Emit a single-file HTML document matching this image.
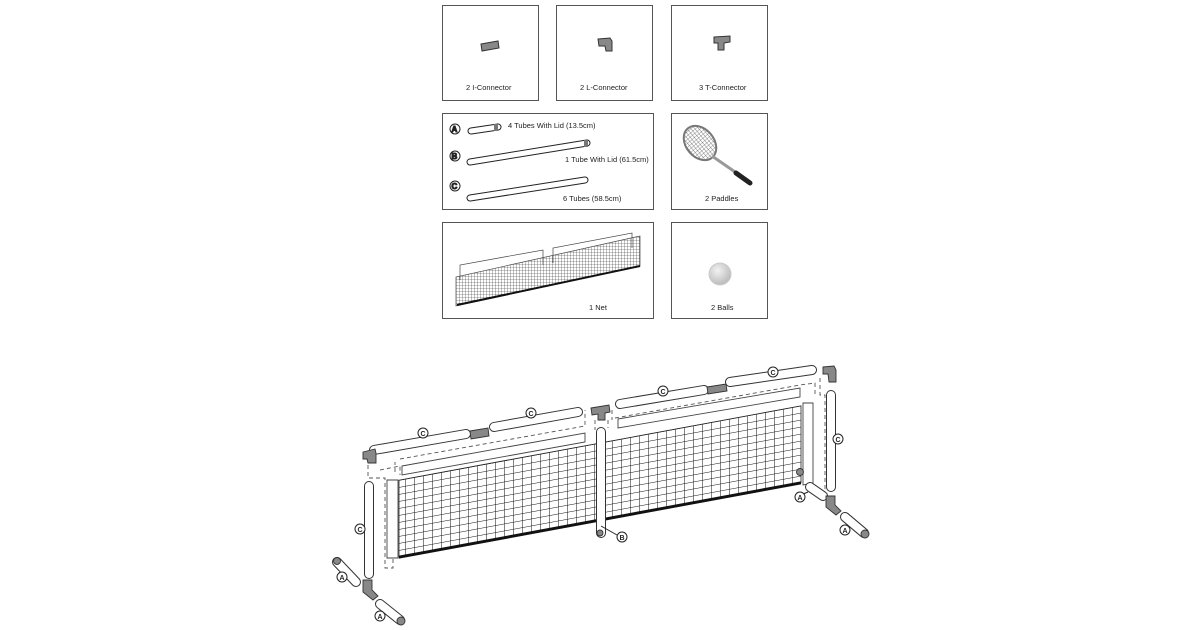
<!DOCTYPE html>
<html><head><meta charset="utf-8"><style>
body{margin:0;background:#fff;width:1200px;height:630px;overflow:hidden}
svg{display:block}
text{font-family:"Liberation Sans",sans-serif;fill:#222}
</style></head><body>
<svg width="1200" height="630" viewBox="0 0 1200 630" xmlns="http://www.w3.org/2000/svg">
<defs>
<pattern id="mesh" width="9" height="7" patternUnits="userSpaceOnUse">
<path d="M0 0H9M0 0V7" stroke="#111" stroke-width="1" fill="none"/>
</pattern>
<pattern id="mesh2" width="3" height="3" patternUnits="userSpaceOnUse">
<path d="M0 0H3M0 0V3" stroke="#333" stroke-width="0.6" fill="none"/>
</pattern>
<radialGradient id="ball" cx="40%" cy="35%" r="65%"><stop offset="0" stop-color="#f2f2f2"/><stop offset="1" stop-color="#bbb"/></radialGradient>
</defs>
<g fill="none" stroke="#555" stroke-width="1">
<rect x="442.5" y="5.5" width="96" height="95"/>
<rect x="556.5" y="5.5" width="96" height="95"/>
<rect x="671.5" y="5.5" width="96" height="95"/>
<rect x="442.5" y="113.5" width="211" height="96"/>
<rect x="671.5" y="113.5" width="96" height="96"/>
<rect x="442.5" y="222.5" width="211" height="96"/>
<rect x="671.5" y="222.5" width="96" height="96"/>
</g>
<g font-size="7.5">
<text x="466" y="90">2  I-Connector</text>
<text x="580" y="90">2  L-Connector</text>
<text x="699" y="90">3  T-Connector</text>
<text x="508" y="128">4 Tubes With Lid (13.5cm)</text>
<text x="565" y="162">1 Tube With Lid (61.5cm)</text>
<text x="563" y="201">6 Tubes (58.5cm)</text>
<text x="705" y="201">2  Paddles</text>
<text x="589" y="310">1  Net</text>
<text x="711" y="310">2  Balls</text>
</g>
<g stroke="#333" stroke-width="1" fill="#888">
<path d="M481 44 L498 41 L499 48 L482 51 Z"/>
<path d="M598 39 L610 38 L612 41 L612 51 L606 51 L605 46 L599 46 Z"/>
<path d="M714 37 L730 36 L730 42 L724 43 L724 50 L718 50 L718 43 L714 43 Z"/>
</g>
<g stroke="#222" stroke-width="1">
<circle cx="455" cy="129" r="5" fill="#fff"/><text x="451.5" y="132" font-size="8" font-weight="bold">A</text>
<circle cx="455" cy="156" r="5" fill="#fff"/><text x="451.5" y="159" font-size="8" font-weight="bold">B</text>
<circle cx="455" cy="186" r="5" fill="#fff"/><text x="451.5" y="189" font-size="8" font-weight="bold">C</text>
</g>
<g stroke-linecap="round">
<line x1="471" y1="131" x2="498" y2="127" stroke="#222" stroke-width="7"/><line x1="471" y1="131" x2="498" y2="127" stroke="#fff" stroke-width="5"/>
<line x1="470" y1="162" x2="587" y2="143" stroke="#222" stroke-width="7"/><line x1="470" y1="162" x2="587" y2="143" stroke="#fff" stroke-width="5"/>
<line x1="470" y1="198" x2="585" y2="180" stroke="#222" stroke-width="7"/><line x1="470" y1="198" x2="585" y2="180" stroke="#fff" stroke-width="5"/>
</g>
<rect x="494" y="124" width="4" height="7" fill="#777"/><rect x="584" y="140" width="4" height="7" fill="#777"/>
<ellipse cx="700" cy="143" rx="14" ry="19" transform="rotate(-40 700 143)" fill="url(#mesh2)" stroke="#777" stroke-width="2"/>
<line x1="712" y1="156" x2="738" y2="174" stroke="#999" stroke-width="3"/>
<line x1="736" y1="173" x2="750" y2="183" stroke="#222" stroke-width="5" stroke-linecap="round"/>
<circle cx="720" cy="274" r="11" fill="url(#ball)" stroke="#ccc"/>
<g stroke="#444" stroke-width="0.7" fill="#fff">
<path d="M460 280 L460 265 L543 250 L543 265"/>
<path d="M553 263 L553 248 L632 233 L632 248"/>
<path d="M456 306 L456 277 L640 236 L640 266 Z" fill="url(#mesh2)"/>
</g>
<line x1="457" y1="305" x2="640" y2="266" stroke="#111" stroke-width="2"/>

<g stroke="#555" stroke-width="0.9" stroke-dasharray="4 3" fill="none">
<path d="M368 465 L368 478 L385 478 L385 568 L393 568 L393 486"/>
<path d="M380 470 L400 466 L400 475"/>
<path d="M400 459 L585 426 L585 410"/>
<path d="M395 472 L395 462"/>
<path d="M595 420 L595 430"/><path d="M608 420 L608 428"/>
<path d="M615 418 L800 385 L815 383 L815 395"/>
<path d="M612 410 L612 420"/>
<path d="M820 378 L820 395 L825 395 L825 490"/>
</g>
<g fill="#fff" stroke="#444" stroke-width="0.9">
<path d="M402 466 L585 433 L585 442 L402 475 Z"/>
<path d="M618 419 L800 388 L800 397 L618 428 Z"/>
<path d="M387 480 L398 480 L398 558 L387 558 Z"/>
<path d="M803 403 L813 403 L813 483 L803 485 Z"/>
</g>
<g transform="matrix(1,-0.185,0,1,0,148)">
<rect x="399" y="406" width="402" height="77" fill="url(#mesh)" stroke="#222" stroke-width="0.8"/>
<line x1="399" y1="483" x2="801" y2="483" stroke="#111" stroke-width="3"/>
</g>
<g stroke-linecap="round">
<g stroke="#333" stroke-width="10">
<line x1="374" y1="450" x2="466" y2="434"/>
<line x1="494" y1="427" x2="578" y2="412"/>
<line x1="620" y1="404" x2="704" y2="390"/>
<line x1="730" y1="382" x2="812" y2="370"/>
<line x1="369" y1="486" x2="369" y2="574"/>
<line x1="831" y1="395" x2="831" y2="487"/>
<line x1="601" y1="432" x2="601" y2="533"/>
<line x1="337" y1="562" x2="356" y2="582"/>
<line x1="380" y1="604" x2="400" y2="620"/>
<line x1="810" y1="487" x2="823" y2="496"/>
<line x1="845" y1="517" x2="864" y2="533"/>
</g>
<g stroke="#fff" stroke-width="8">
<line x1="374" y1="450" x2="466" y2="434"/>
<line x1="494" y1="427" x2="578" y2="412"/>
<line x1="620" y1="404" x2="704" y2="390"/>
<line x1="730" y1="382" x2="812" y2="370"/>
<line x1="369" y1="486" x2="369" y2="574"/>
<line x1="831" y1="395" x2="831" y2="487"/>
<line x1="601" y1="432" x2="601" y2="533"/>
<line x1="337" y1="562" x2="356" y2="582"/>
<line x1="380" y1="604" x2="400" y2="620"/>
<line x1="810" y1="487" x2="823" y2="496"/>
<line x1="845" y1="517" x2="864" y2="533"/>
</g>
</g>
<g fill="#888" stroke="#333" stroke-width="0.9">
<path d="M470 431 L488 428 L489 436 L471 439 Z"/>
<path d="M707 387 L726 384 L727 391 L708 394 Z"/>
<path d="M363 452 L375 449 L376 453 L376 463 L368 463 L367 459 L363 459 Z"/>
<path d="M823 367 L834 366 L836 370 L836 382 L829 382 L828 374 L823 374 Z"/>
<path d="M591 408 L609 405 L610 412 L605 413 L605 420 L598 420 L598 414 L592 415 Z"/>
<path d="M363 580 L372 580 L372 590 L378 596 L373 600 L363 592 Z"/>
<path d="M826 496 L835 496 L835 505 L841 511 L836 515 L826 507 Z"/>
<circle cx="337" cy="561" r="3.5"/><circle cx="401" cy="621" r="4"/>
<circle cx="865" cy="534" r="4"/><circle cx="600" cy="533" r="3"/>
<circle cx="800" cy="472" r="3.5"/>
</g>
<g stroke="#222" stroke-width="1" fill="#fff">
<line x1="601" y1="526" x2="617" y2="535"/>
<line x1="808" y1="492" x2="801" y2="495"/>
<circle cx="423" cy="433" r="5"/><circle cx="531" cy="413" r="5"/>
<circle cx="663" cy="391" r="5"/><circle cx="773" cy="372" r="5"/>
<circle cx="360" cy="529" r="5"/><circle cx="838" cy="439" r="5"/>
<circle cx="622" cy="537" r="5"/>
<circle cx="342" cy="577" r="5"/><circle cx="380" cy="616" r="5"/>
<circle cx="800" cy="497" r="5"/><circle cx="845" cy="530" r="5"/>
</g>
<g font-size="7" font-weight="bold" text-anchor="middle">
<text x="423" y="436">C</text><text x="531" y="416">C</text>
<text x="663" y="394">C</text><text x="773" y="375">C</text>
<text x="360" y="532">C</text><text x="838" y="442">C</text>
<text x="622" y="540">B</text>
<text x="342" y="580">A</text><text x="380" y="619">A</text>
<text x="800" y="500">A</text><text x="845" y="533">A</text>
</g>
</svg>
</body></html>
